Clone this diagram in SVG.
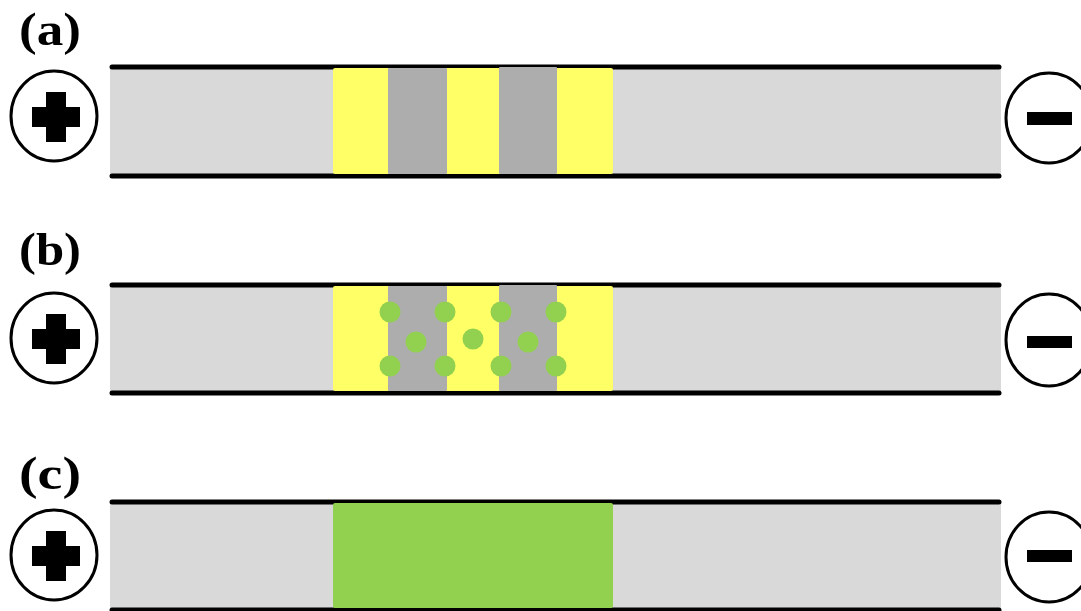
<svg xmlns="http://www.w3.org/2000/svg" width="1081" height="611" viewBox="0 0 1081 611">
<style>
.strip{fill:#D9D9D9}
.rail{stroke:#000;stroke-width:5;stroke-linecap:round;fill:none}
.yel{fill:#FFFF66}
.gry{fill:#ADADAD}
.grn{fill:#92D050}
.ring{fill:#fff;stroke:#000;stroke-width:3}
.sign{fill:#000}
.lbl{font-family:"Liberation Serif","Times New Roman",serif;font-weight:bold;font-size:47px;fill:#000}
</style>
<defs>
<g id="plus"><rect x="-24" y="-10" width="48" height="20"/><rect x="-10" y="-25" width="20" height="50"/></g>
</defs>
<g id="panel-a">
<text class="lbl" x="19" y="45" textLength="62" lengthAdjust="spacingAndGlyphs">(a)</text>
<rect class="strip" x="110" y="67" width="891" height="109"/>
<line class="rail" x1="112" y1="67" x2="999" y2="67"/>
<line class="rail" x1="112" y1="176" x2="999" y2="176"/>
<rect class="yel" x="333" y="68" width="280" height="106" rx="2"/>
<rect class="gry" x="388" y="68" width="59" height="106" rx="1"/>
<rect class="gry" x="499" y="67" width="58" height="107" rx="1"/>
<g id="plus-a"><ellipse class="ring" cx="54" cy="116" rx="43" ry="45"/><use href="#plus" x="56" y="117"/></g>
<g id="minus-a"><ellipse class="ring" cx="1049" cy="118" rx="43" ry="45"/><rect class="sign" x="1027" y="112" width="45" height="13"/></g>
</g>
<g id="panel-b">
<text class="lbl" x="19" y="265" textLength="62" lengthAdjust="spacingAndGlyphs">(b)</text>
<rect class="strip" x="110" y="285" width="891" height="108"/>
<line class="rail" x1="112" y1="285" x2="999" y2="285"/>
<line class="rail" x1="112" y1="393" x2="999" y2="393"/>
<rect class="yel" x="333" y="286" width="280" height="105" rx="2"/>
<rect class="gry" x="388" y="286" width="59" height="105" rx="1"/>
<rect class="gry" x="499" y="285" width="58" height="106" rx="1"/>
<g class="grn">
<circle cx="390" cy="312" r="10.5"/><circle cx="445" cy="312" r="10.5"/><circle cx="501" cy="312" r="10.5"/><circle cx="556" cy="312" r="10.5"/>
<circle cx="416" cy="342" r="10.5"/><circle cx="473" cy="339" r="10.5"/><circle cx="528" cy="342" r="10.5"/>
<circle cx="390" cy="366" r="10.5"/><circle cx="445" cy="366" r="10.5"/><circle cx="501" cy="366" r="10.5"/><circle cx="556" cy="366" r="10.5"/>
</g>
<g id="plus-b"><ellipse class="ring" cx="54" cy="338" rx="43" ry="45"/><use href="#plus" x="56" y="339"/></g>
<g id="minus-b"><ellipse class="ring" cx="1049" cy="340" rx="43" ry="46"/><rect class="sign" x="1027" y="336" width="45" height="12"/></g>
</g>
<g id="panel-c">
<text class="lbl" x="19" y="489" textLength="62" lengthAdjust="spacingAndGlyphs">(c)</text>
<rect class="strip" x="110" y="502" width="891" height="109"/>
<line class="rail" x1="112" y1="502" x2="999" y2="502"/>
<line class="rail" x1="112" y1="610" x2="999" y2="610"/>
<rect class="grn" x="333" y="503" width="280" height="105" rx="2"/>
<g id="plus-c"><ellipse class="ring" cx="54" cy="555" rx="43" ry="45"/><use href="#plus" x="56" y="556"/></g>
<g id="minus-c"><ellipse class="ring" cx="1049" cy="557" rx="43" ry="45"/><rect class="sign" x="1027" y="550" width="45" height="12"/></g>
</g>
<g id="connectors"/>
</svg>
